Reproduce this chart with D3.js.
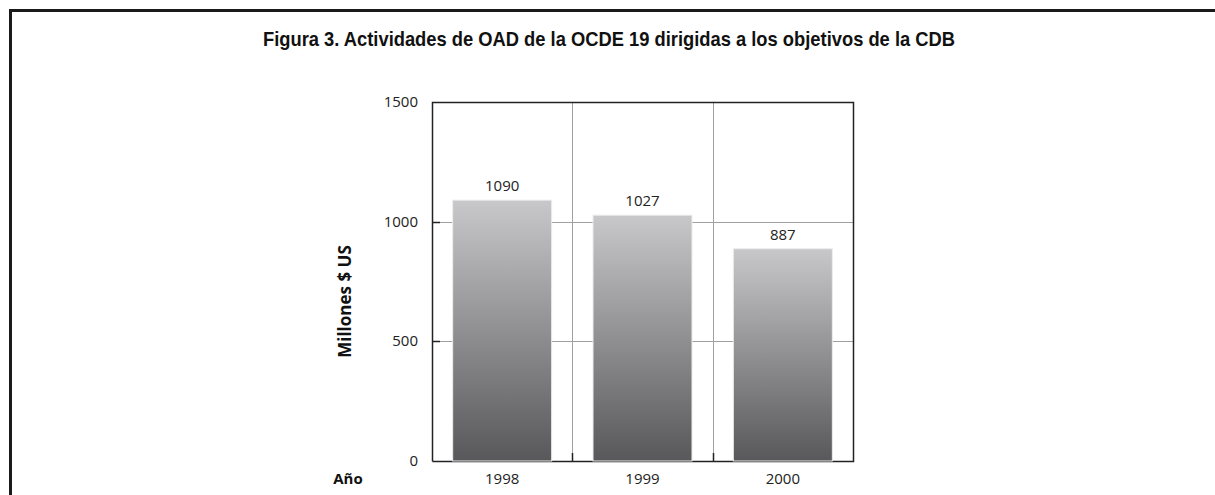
<!DOCTYPE html>
<html>
<head>
<meta charset="utf-8">
<script src="https://cdn.jsdelivr.net/npm/d3@7"></script>
<style>
  body { margin: 0; background: #fff; }
  svg { display: block; }
</style>
</head>
<body>
<div id="chart"></div>
<script>
var years = ["1998", "1999", "2000"];
var values = [1090, 1027, 887];
var yTicks = [0, 500, 1000, 1500];

var width = 1215;
var height = 495;
var pLeft = 432, pRight = 853, pTop = 102, pBottom = 461;

var svg = d3.select("#chart")
    .append("svg")
    .attr("width", width)
    .attr("height", height);

var grad = svg.append("defs").append("linearGradient")
    .attr("id", "barGrad")
    .attr("x1", 0).attr("y1", 0).attr("x2", 0).attr("y2", 1);
grad.append("stop").attr("offset", "0%").attr("stop-color", "#c8c8ca");
grad.append("stop").attr("offset", "100%").attr("stop-color", "#58585a");

// frame
svg.append("path")
    .attr("d", "M10.5,495 L10.5,10.5 L1215,10.5")
    .attr("fill", "none")
    .attr("stroke", "#1a1a1a")
    .attr("stroke-width", 3);

svg.append("text")
    .attr("x", 263)
    .attr("y", 46)
    .attr("textLength", 692)
    .attr("lengthAdjust", "spacingAndGlyphs")
    .style("font-family", "'Liberation Sans Narrow', 'Arial Narrow', 'Liberation Sans', sans-serif")
    .style("font-weight", "bold")
    .style("font-size", "21px")
    .style("fill", "#111")
    .text("Figura 3. Actividades de OAD de la OCDE 19  dirigidas a los objetivos de la CDB");

var x = d3.scaleBand()
    .domain(years)
    .range([pLeft, pRight])
    .paddingInner(0)
    .paddingOuter(0);

var y = d3.scaleLinear()
    .domain([0, 1500])
    .range([pBottom, pTop]);

var barW = 99;

// gridlines
svg.append("g")
    .selectAll("line")
    .data(yTicks.filter(function(d) { return d > 0 && d < 1500; }))
    .enter().append("line")
    .attr("x1", pLeft).attr("x2", pRight)
    .attr("y1", function(d) { return Math.round(y(d)) + 0.5; })
    .attr("y2", function(d) { return Math.round(y(d)) + 0.5; })
    .attr("stroke", "#a0a0a0")
    .attr("stroke-width", 1);

svg.append("g")
    .selectAll("line")
    .data(years.slice(1))
    .enter().append("line")
    .attr("x1", function(d) { return Math.round(x(d)) + 0.5; })
    .attr("x2", function(d) { return Math.round(x(d)) + 0.5; })
    .attr("y1", pTop).attr("y2", pBottom)
    .attr("stroke", "#a0a0a0")
    .attr("stroke-width", 1);

// plot border
svg.append("path")
    .attr("d", "M" + (pLeft + 0.5) + "," + (pBottom + 0.5) + " L" + (pLeft + 0.5) + "," + (pTop + 0.5) +
        " L" + (pRight + 0.5) + "," + (pTop + 0.5) + " L" + (pRight + 0.5) + "," + (pBottom + 0.5) +
        " L" + (pLeft + 0.5) + "," + (pBottom + 0.5))
    .attr("fill", "none")
    .attr("stroke", "#222")
    .attr("stroke-width", 1.5);

// inner ticks on y axis
svg.append("g")
    .selectAll("line")
    .data(yTicks.filter(function(d) { return d > 0 && d < 1500; }))
    .enter().append("line")
    .attr("x1", pLeft).attr("x2", pLeft + 8)
    .attr("y1", function(d) { return Math.round(y(d)) + 0.5; })
    .attr("y2", function(d) { return Math.round(y(d)) + 0.5; })
    .attr("stroke", "#222")
    .attr("stroke-width", 1.5);

// inner ticks on x axis
svg.append("g")
    .selectAll("line")
    .data(years.slice(1))
    .enter().append("line")
    .attr("x1", function(d) { return Math.round(x(d)) + 0.5; })
    .attr("x2", function(d) { return Math.round(x(d)) + 0.5; })
    .attr("y1", pBottom - 8).attr("y2", pBottom)
    .attr("stroke", "#222")
    .attr("stroke-width", 1.5);

// bars
svg.append("g")
    .selectAll("rect")
    .data(values)
    .enter().append("rect")
    .attr("x", function(d, i) { return x(years[i]) + (x.bandwidth() - barW) / 2; })
    .attr("y", function(d) { return y(d); })
    .attr("width", barW)
    .attr("height", function(d) { return pBottom - y(d); })
    .attr("fill", "url(#barGrad)")
    .attr("stroke", "#ececec")
    .attr("stroke-width", 1);

// value labels
svg.append("g")
    .selectAll("text")
    .data(values)
    .enter().append("text")
    .attr("x", function(d, i) { return x(years[i]) + x.bandwidth() / 2; })
    .attr("y", function(d) { return y(d) - 9; })
    .attr("text-anchor", "middle")
    .style("font-family", "'Open Sans', 'DejaVu Sans', sans-serif")
    .style("font-size", "15px")
    .style("fill", "#222")
    .text(function(d) { return d; });

// y tick labels
svg.append("g")
    .selectAll("text")
    .data(yTicks)
    .enter().append("text")
    .attr("x", 418)
    .attr("y", function(d) { return y(d) + 5; })
    .attr("text-anchor", "end")
    .style("font-family", "'Open Sans', 'DejaVu Sans', sans-serif")
    .style("font-size", "15px")
    .style("fill", "#222")
    .text(function(d) { return d; });

// x tick labels
svg.append("g")
    .selectAll("text")
    .data(years)
    .enter().append("text")
    .attr("x", function(d) { return x(d) + x.bandwidth() / 2; })
    .attr("y", 484)
    .attr("text-anchor", "middle")
    .style("font-family", "'Open Sans', 'DejaVu Sans', sans-serif")
    .style("font-size", "15px")
    .style("fill", "#222")
    .text(function(d) { return d; });

// axis titles
svg.append("text")
    .attr("transform", "translate(351," + ((pTop + pBottom) / 2 + 20) + ") rotate(-90)")
    .attr("text-anchor", "middle")
    .style("font-family", "'Open Sans', 'DejaVu Sans', sans-serif")
    .style("font-weight", "bold")
    .style("font-size", "17px")
    .style("fill", "#111")
    .text("Millones $ US");

svg.append("text")
    .attr("x", 348)
    .attr("y", 484)
    .attr("text-anchor", "middle")
    .style("font-family", "'Open Sans', 'DejaVu Sans', sans-serif")
    .style("font-weight", "bold")
    .style("font-size", "15px")
    .style("fill", "#111")
    .text("Año");
</script>
</body>
</html>
